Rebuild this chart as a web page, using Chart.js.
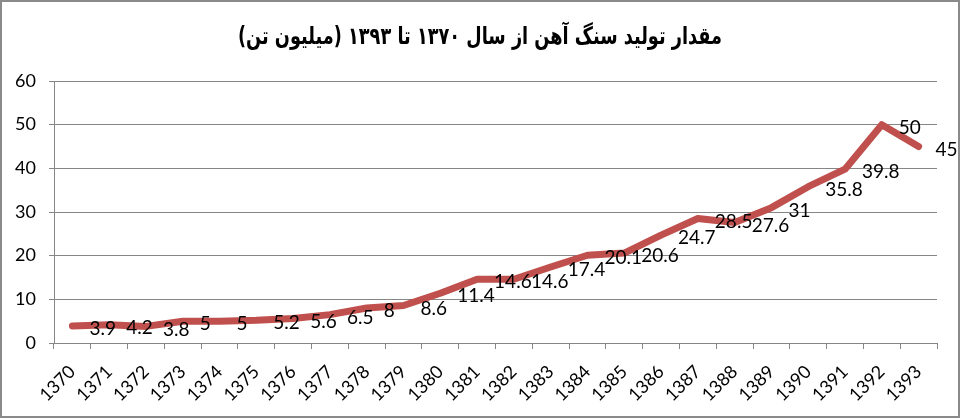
<!DOCTYPE html>
<html>
<head>
<meta charset="utf-8">
<script src="https://cdn.jsdelivr.net/npm/chart.js@4/dist/chart.umd.min.js"></script>
<style>
  body { margin: 0; background: #fff; }
  #wrap { position: relative; width: 960px; height: 419px; }
  #frame { position: absolute; left: 0; top: 0; width: 960px; height: 418px; box-sizing: border-box;
           border: 2px solid #8a8a8a; pointer-events: none; }
  canvas { position: absolute; left: 0; top: 0; }
</style>
</head>
<body>
<div id="wrap">
  <canvas id="ironOre" width="960" height="419"></canvas>
  <div id="frame"></div>
</div>
<script>
// data
const years = ['1370', '1371', '1372', '1373', '1374', '1375', '1376', '1377', '1378', '1379', '1380', '1381',
  '1382', '1383', '1384', '1385', '1386', '1387', '1388', '1389', '1390', '1391', '1392', '1393'];
const production = [3.9, 4.2, 3.8, 5, 5, 5.2, 5.6, 6.5, 8, 8.6, 11.4, 14.6,
  14.6, 17.4, 20.1, 20.6, 24.7, 28.5, 27.6, 31, 35.8, 39.8, 50, 45];
const chartTitle = 'مقدار تولید سنگ آهن از سال ۱۳۷۰ تا ۱۳۹۳ (میلیون تن)';

const gridColor = '#868686';

// title + value labels drawn by hand (no datalabels plugin offline)
const extras = {
  id: 'extras',
  afterDatasetsDraw(chart) {
    const ctx = chart.ctx;
    const meta = chart.getDatasetMeta(0);
    ctx.save();
    ctx.font = '19px Lato';
    ctx.fillStyle = '#000';
    ctx.textAlign = 'left';
    ctx.textBaseline = 'middle';
    meta.data.forEach((pt, i) => {
      ctx.fillText(String(production[i]), pt.x + 17, pt.y + 3);
    });
    ctx.restore();
  },
  afterDraw(chart) {
    const ctx = chart.ctx;
    ctx.save();
    ctx.font = 'bold 24px "DejaVu Sans"';
    ctx.fillStyle = '#000';
    ctx.textAlign = 'center';
    ctx.textBaseline = 'middle';
    ctx.direction = 'rtl';
    // squeeze horizontally, the original font is a narrow one
    const w = ctx.measureText(chartTitle).width;
    const sx = Math.min(1, 484 / w);
    ctx.translate(480, 38);
    ctx.scale(sx, 1);
    ctx.fillText(chartTitle, 0, 0);
    ctx.restore();
  }
};

new Chart(document.getElementById('ironOre').getContext('2d'), {
  type: 'line',
  data: {
    labels: years,
    datasets: [{
      data: production,
      borderColor: '#C0504D',
      borderWidth: 7,
      borderCapStyle: 'round',
      borderJoinStyle: 'round',
      pointRadius: 0,
      fill: false,
      tension: 0
    }]
  },
  options: {
    responsive: false,
    animation: false,
    layout: { padding: { left: 0, right: 23, top: 81, bottom: 0 } },
    plugins: {
      legend: { display: false },
      tooltip: { enabled: false }
    },
    scales: {
      x: {
        offset: true,
        grid: { offset: true, drawOnChartArea: false, color: gridColor, tickLength: 6 },
        border: { color: gridColor },
        ticks: {
          minRotation: 45, maxRotation: 45, padding: 12,
          color: '#000', font: { family: 'Lato', size: 18 }
        },
        afterFit(scale) { scale.height = 76; }
      },
      y: {
        min: 0, max: 60,
        ticks: { stepSize: 10, padding: 13, color: '#000', font: { family: 'Lato', size: 18 } },
        grid: { color: gridColor, tickLength: 5 },
        border: { color: gridColor },
        afterFit(scale) { scale.width = 54; }
      }
    }
  },
  plugins: [extras]
});
</script>
</body>
</html>
